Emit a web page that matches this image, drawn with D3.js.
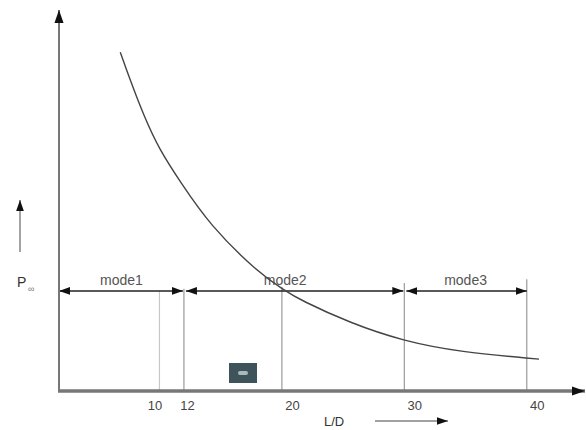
<!DOCTYPE html>
<html>
<head>
<meta charset="utf-8">
<script src="https://cdn.jsdelivr.net/npm/d3@7"></script>
<style>
  body { margin: 0; background: #fff; }
  svg { display: block; font-family: "Liberation Sans", Arial, sans-serif; }
</style>
</head>
<body>
<svg width="586" height="430"></svg>
<script>
// curve (L/D vs P, arbitrary P units)
var ld = [6.8, 7.6, 8.7, 10, 11.7, 14.1, 18, 20.2, 21.5, 25.6, 29.9, 34.5, 41];
var pInf = [89.4, 82.1, 72.8, 63.6, 55.2, 43.8, 31.4, 26.6, 24.0, 17.9, 13.2, 10.3, 8.4];

var tickVals = [10, 12, 20, 30, 40];
var modeNames = ["mode1", "mode2", "mode3"];
var modeStart = [1.8, 12, 30];
var modeEnd = [12, 30, 40];
var modeLevel = 26.4;
var guideTop = [26.4, 27, 27.5, 28.5, 29.5];

var svg = d3.select("svg");

var x = d3.scaleLinear().domain([0, 45]).range([37, 588]);
var y = d3.scaleLinear().domain([0, 100]).range([391, 12]);

var defs = svg.append("defs");
function marker(id, size) {
  defs.append("marker")
      .attr("id", id)
      .attr("viewBox", "0 0 10 10")
      .attr("refX", 10).attr("refY", 5)
      .attr("markerWidth", size).attr("markerHeight", size)
      .attr("markerUnits", "userSpaceOnUse")
      .attr("orient", "auto-start-reverse")
    .append("path")
      .attr("d", "M0,1.5 L10,5 L0,8.5 Z")
      .attr("fill", "#111");
}
marker("arr", 13);
marker("arrS", 11);

// guide lines from x axis up to the mode line
svg.append("g").selectAll("line")
  .data(tickVals)
  .enter().append("line")
    .attr("x1", function(d) { return x(d); })
    .attr("x2", function(d) { return x(d); })
    .attr("y1", y(0))
    .attr("y2", function(d, i) { return y(guideTop[i]); })
    .attr("stroke", function(d) { return d === 10 ? "#c8c8c8" : "#9a9a9a"; })
    .attr("stroke-width", 1.2);

// mode arrows
svg.append("g").selectAll("line")
  .data(modeNames)
  .enter().append("line")
    .attr("x1", function(d, i) { return x(modeStart[i]) + (i ? 2 : 0); })
    .attr("x2", function(d, i) { return x(modeEnd[i]) - (i < 2 ? 1 : 0); })
    .attr("y1", y(modeLevel))
    .attr("y2", y(modeLevel))
    .attr("stroke", "#222")
    .attr("stroke-width", 1.5)
    .attr("marker-start", "url(#arrS)")
    .attr("marker-end", "url(#arrS)");

svg.append("g").selectAll("text")
  .data(modeNames)
  .enter().append("text")
    .attr("x", function(d, i) { return (x(modeStart[i]) + x(modeEnd[i])) / 2 - (i === 1 ? 9 : 0); })
    .attr("y", y(modeLevel) - 6)
    .attr("text-anchor", "middle")
    .attr("font-size", 14)
    .attr("fill", "#555")
    .text(function(d) { return d; });

// curve
var line = d3.line()
    .x(function(d, i) { return x(ld[i]); })
    .y(function(d) { return y(d); })
    .curve(d3.curveBasis);

svg.append("path")
    .datum(pInf)
    .attr("d", line)
    .attr("fill", "none")
    .attr("stroke", "#444")
    .attr("stroke-width", 1.4);

// axes
svg.append("line")
    .attr("x1", 59).attr("x2", 59)
    .attr("y1", y(0) + 1).attr("y2", 10)
    .attr("stroke", "#777").attr("stroke-width", 2)
    .attr("marker-end", "url(#arr)");

svg.append("line")
    .attr("x1", 58).attr("x2", 585)
    .attr("y1", y(0)).attr("y2", y(0))
    .attr("stroke", "#777").attr("stroke-width", 3.5)
    .attr("marker-end", "url(#arr)");

var xAxis = svg.append("g")
    .attr("transform", "translate(0," + y(0) + ")")
    .call(d3.axisBottom(x).tickValues(tickVals).tickSize(0).tickPadding(10));
xAxis.select(".domain").remove();
xAxis.selectAll("text")
    .attr("font-size", 13)
    .attr("font-family", "Liberation Sans, Arial, sans-serif")
    .attr("fill", "#444")
    .attr("dx", function(d) { return d === 10 ? -5 : (d === 12 ? 3 : 10); });

// axis titles
svg.append("text")
    .attr("x", 17).attr("y", 287)
    .attr("font-size", 14).attr("fill", "#333")
    .text("P");
svg.append("text")
    .attr("x", 28).attr("y", 292)
    .attr("font-size", 9).attr("fill", "#777")
    .text("∞");
svg.append("line")
    .attr("x1", 20).attr("x2", 20)
    .attr("y1", 252).attr("y2", 200)
    .attr("stroke", "#666").attr("stroke-width", 1.2)
    .attr("marker-end", "url(#arrS)");

svg.append("text")
    .attr("x", 324).attr("y", 426)
    .attr("font-size", 13).attr("fill", "#333")
    .text("L/D");
svg.append("line")
    .attr("x1", 375).attr("x2", 448)
    .attr("y1", 421).attr("y2", 421)
    .attr("stroke", "#444").attr("stroke-width", 1.2)
    .attr("marker-end", "url(#arrS)");

// small dark box near the axis
svg.append("rect")
    .attr("x", 229).attr("y", 363)
    .attr("width", 28).attr("height", 20)
    .attr("fill", "#3e545a");
svg.append("rect")
    .attr("x", 238).attr("y", 371)
    .attr("width", 10).attr("height", 4)
    .attr("rx", 2)
    .attr("fill", "#a9b9bc");
</script>
</body>
</html>
